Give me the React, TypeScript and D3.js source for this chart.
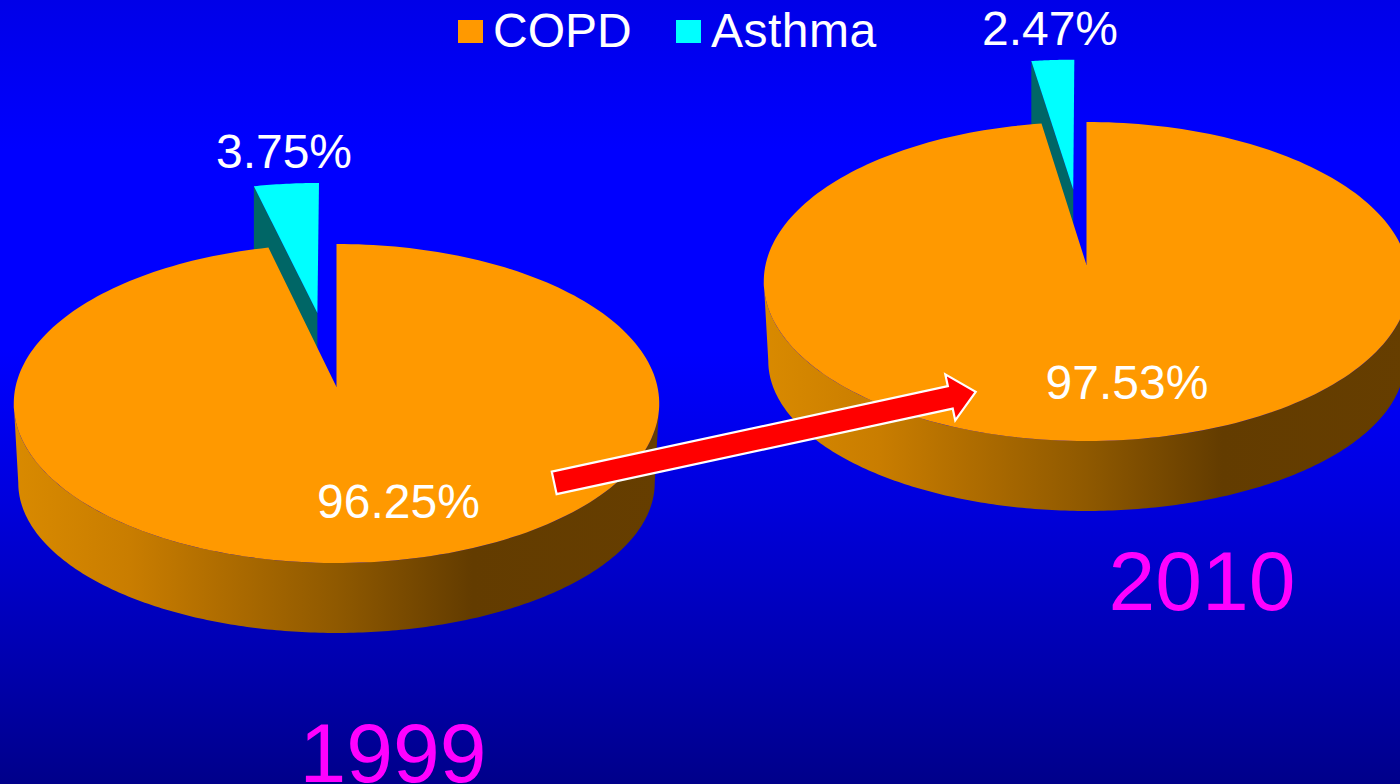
import React from 'react';
import * as d3 from 'd3';

const categories = ['COPD', 'Asthma'];
const years = ['1999', '2010'];
const copdShare = [96.25, 97.53];
const asthmaShare = [3.75, 2.47];
const copdLabels = ['96.25%', '97.53%'];
const asthmaLabels = ['3.75%', '2.47%'];
const colors = ['#ff9900', '#00ffff'];

const W = 1400, H = 784;
const R = 321, A = 157.8, C = 0.1034, DEPTH = 70, BOTTOM_DROP = 80.5, EXPLODE = [0.496, 0.505];
const apexes: [number, number][] = [[336.5, 387], [1086.5, 265]];

function projector(cx: number, cy: number, kx = 1, ky = 1) {
  return (u: number, v: number): [number, number] => {
    const d = 1 + C * v;
    return [cx + (kx * R * u) / d, cy - (ky * A * v) / d];
  };
}
const onDisc = (a: number): [number, number] => [Math.sin(a), Math.cos(a)];
const line = d3.line();
const wallStops: [number, string][] = [
  [0, '#d98a00'], [0.18, '#c97d00'], [0.3, '#b36f00'], [0.5, '#8f5900'], [0.6, '#7a4b00'], [0.71, '#633c00'], [1, '#663e00'],
];

function Pie({ i }: { i: number }) {
  const [cx, cy] = apexes[i];
  const arcs = d3.pie<number>().sort(null)([copdShare[i], asthmaShare[i]]);
  const top = projector(cx, cy);
  const sliceTop = projector(cx - 1.3, cy);
  const bot = projector(cx, cy + BOTTOM_DROP, 0.986, 0.94);
  const copd = arcs[0];
  const angles = d3.range(0, 241).map(t => copd.startAngle + ((copd.endAngle - copd.startAngle) * t) / 240);
  const topPts = angles.map(a => { const [u, v] = onDisc(a); return top(u, v); });
  const topPath = line([[cx, cy], ...topPts]) + 'Z';

  const a0 = Math.PI / 2 + Math.asin(C);
  const front = d3.range(0, 241).map(t => a0 + ((2 * Math.PI - 2 * a0) * t) / 240);
  const wallPts = [
    ...front.map(a => { const [u, v] = onDisc(a); return top(u, v); }),
    ...front.slice().reverse().map(a => { const [u, v] = onDisc(a); return bot(u, v); }),
  ];

  const as = arcs[1];
  const mid = (as.startAngle + as.endAngle) / 2;
  const e = EXPLODE[i];
  const ou = Math.sin(mid) * e, ov = Math.cos(mid) * e;
  const sliceAngles = d3.range(0, 21).map(t => as.startAngle + ((as.endAngle - as.startAngle) * t) / 20);
  const rim = sliceAngles.map(a => { const [u, v] = onDisc(a); return sliceTop(u + ou, v + ov); });
  const tip = sliceTop(ou, ov);
  const far = sliceTop(Math.sin(as.startAngle) + ou, Math.cos(as.startAngle) + ov);
  const sideWall: [number, number][] = [far, tip, [tip[0], tip[1] + DEPTH], [far[0], far[1] + DEPTH]];

  return (
    <g>
      <linearGradient id={`wall${i}`} gradientUnits="userSpaceOnUse" x1={cx - 323} x2={cx + 323} y1={0} y2={0}>
        {wallStops.map(([o, c]) => <stop key={o} offset={o} stopColor={c} />)}
      </linearGradient>
      <path d={line(wallPts)! + 'Z'} fill={`url(#wall${i})`} />
      <path d={line(sideWall)! + 'Z'} fill="#006666" />
      <path d={line([tip, ...rim])! + 'Z'} fill={colors[1]} />
      <path d={topPath} fill={colors[0]} />
    </g>
  );
}

const arrowStart: [number, number] = [554.2, 482.9];
const arrowEnd: [number, number] = [975.7, 391.9];
function arrowPath() {
  const [x0, y0] = arrowStart, [x1, y1] = arrowEnd;
  const L = Math.hypot(x1 - x0, y1 - y0);
  const ux = (x1 - x0) / L, uy = (y1 - y0) / L;
  const nx = -uy, ny = ux;
  const at = (s: number, t: number): [number, number] => [x0 + ux * s + nx * t, y0 + uy * s + ny * t];
  return line([at(0, -11.5), at(L - 26, -11.5), at(L - 26, -23.5), at(L, 0), at(L - 26, 23.5), at(L - 26, 11.5), at(0, 11.5)]) + 'Z';
}

const font = '"Liberation Sans", Arial, sans-serif';

export default function App() {
  return (
    <svg width={W} height={H} viewBox={`0 0 ${W} ${H}`} style={{ position: 'absolute', left: 0, top: 0, display: 'block' }} fontFamily={font}>
      <defs>
        <linearGradient id="bg" gradientUnits="userSpaceOnUse" x1="0" x2="0" y1="0" y2={H}>
          <stop offset={0} stopColor="#0000e8" />
          <stop offset={150 / H} stopColor="#0000ff" />
          <stop offset={350 / H} stopColor="#0000ff" />
          <stop offset={500 / H} stopColor="#0000dd" />
          <stop offset={640 / H} stopColor="#0000b5" />
          <stop offset={1} stopColor="#00008a" />
        </linearGradient>
      </defs>
      <rect width={W} height={H} fill="url(#bg)" />
      <Pie i={0} />
      <Pie i={1} />
      <path d={arrowPath()} fill="#ff0000" stroke="#ffffff" strokeWidth={2.2} strokeLinejoin="miter" />

      <rect x={458} y={20} width={25} height={23} fill={colors[0]} />
      <text x={493} y={47} fontSize={48} fill="#fff">{categories[0]}</text>
      <rect x={676} y={20} width={25} height={23} fill={colors[1]} />
      <text x={711} y={47} fontSize={48} letterSpacing={0.5} fill="#fff">{categories[1]}</text>

      <text x={284} y={168} fontSize={48} fill="#fff" textAnchor="middle">{asthmaLabels[0]}</text>
      <text x={1050} y={45} fontSize={48} fill="#fff" textAnchor="middle">{asthmaLabels[1]}</text>
      <text x={398.5} y={518} fontSize={48} fill="#fff" textAnchor="middle">{copdLabels[0]}</text>
      <text x={1127} y={399} fontSize={48} fill="#fff" textAnchor="middle">{copdLabels[1]}</text>

      <text x={393} y={782} fontSize={84} fill="#ff00ff" textAnchor="middle">{years[0]}</text>
      <text x={1202} y={610} fontSize={84} fill="#ff00ff" textAnchor="middle">{years[1]}</text>
    </svg>
  );
}
